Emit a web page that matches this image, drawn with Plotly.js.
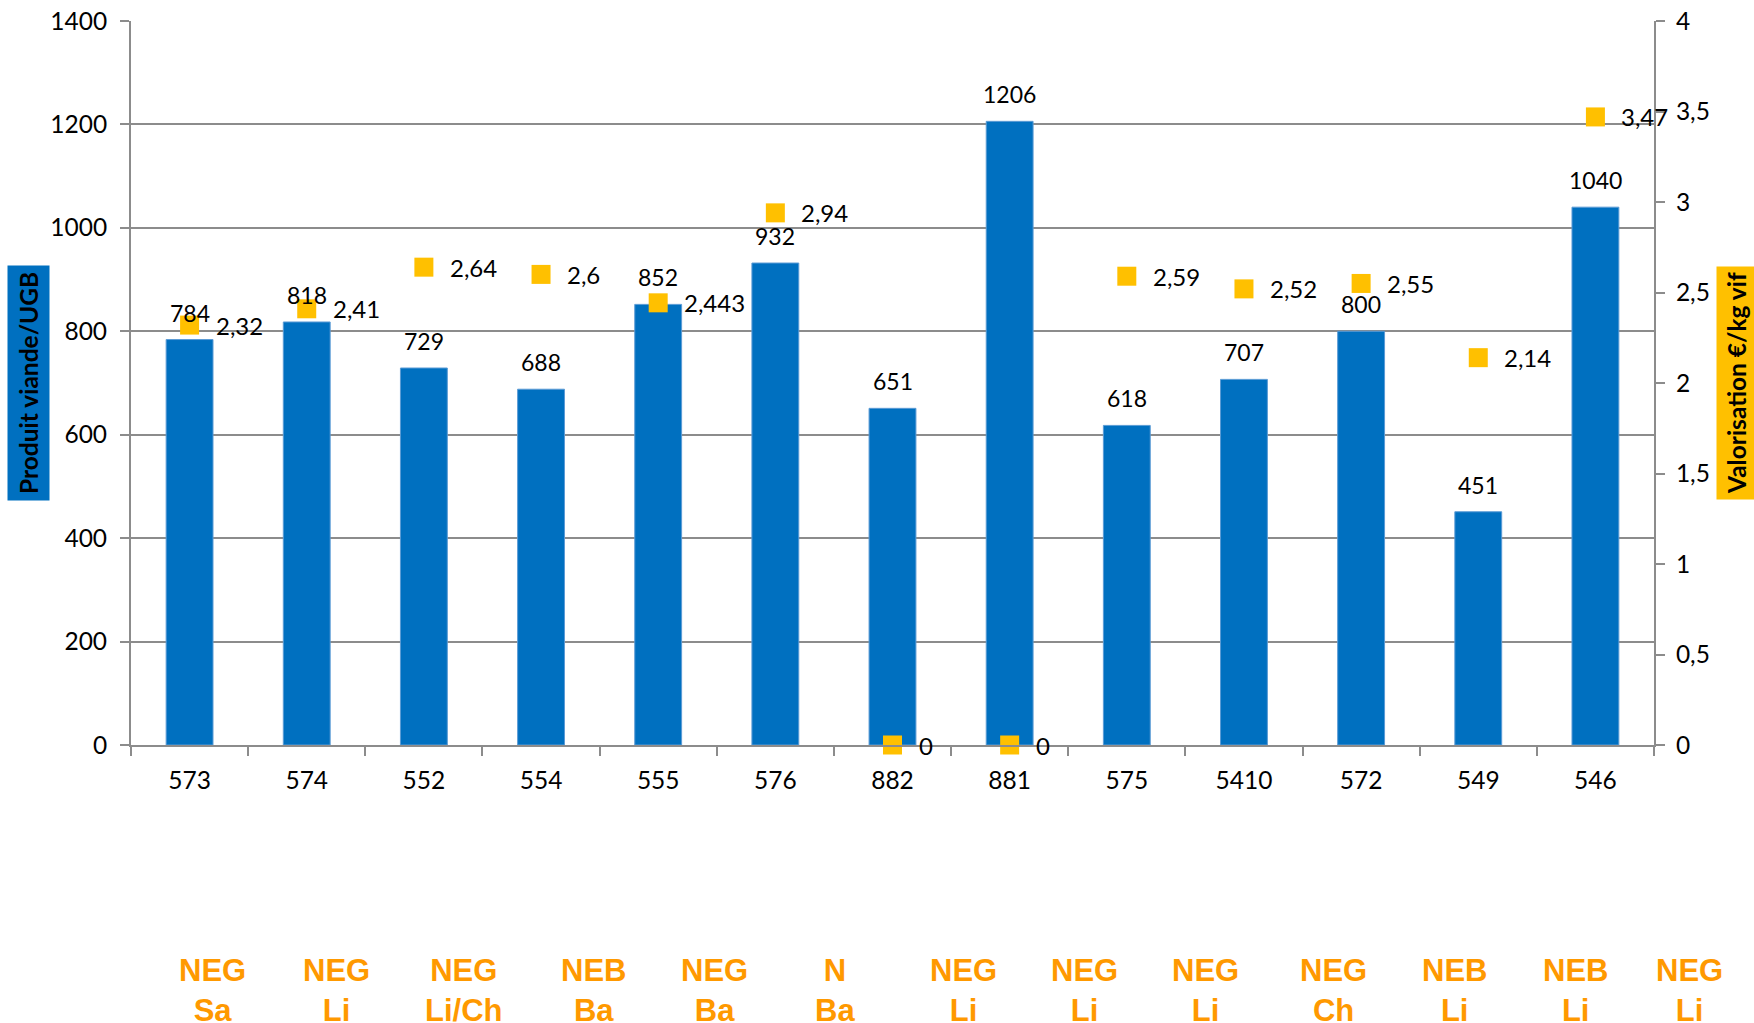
<!DOCTYPE html>
<html>
<head>
<meta charset="utf-8">
<script src="https://cdn.plot.ly/plotly-3.0.1.min.js"></script>
<style>html,body{margin:0;padding:0;background:#fff;}#chart{width:1754px;height:1023px;}</style>
</head>
<body>
<div id="chart"></div>
<script>
// ---- data ----
const categories = ["573","574","552","554","555","576","882","881","575","5410","572","549","546"];
const produitViande = [784, 818, 729, 688, 852, 932, 651, 1206, 618, 707, 800, 451, 1040];
const valorisation = [2.32, 2.41, 2.64, 2.6, 2.443, 2.94, 0, 0, 2.59, 2.52, 2.55, 2.14, 3.47];
const raceLabels = ["NEG<br>Sa","NEG<br>Li","NEG<br>Li/Ch","NEB<br>Ba","NEG<br>Ba","N<br>Ba","NEG<br>Li","NEG<br>Li","NEG<br>Li","NEG<br>Ch","NEB<br>Li","NEB<br>Li","NEG<br>Li"];
const leftTitle = "Produit viande/UGB";
const rightTitle = "Valorisation €/kg vif";

// ---- layout helpers (positions kept separate from data) ----
const W = 1754, H = 1023;
const M = {l:131, r:100, t:21, b:278};
const plotW = W - M.l - M.r, plotH = H - M.t - M.b;
const px2x = p => (p - M.l) / plotW;
const px2y = p => 1 - (p - M.t) / plotH;
const raceLabelPx = [212, 336, 464, 593, 714, 835, 963, 1084, 1205, 1333, 1454, 1575, 1689];
const raceLabelPy = 990;

const FONT = "Lato, 'Open Sans', sans-serif";
const GRID = "#8c8c8c";

const fmt = v => String(v).replace('.', ',');

const barTrace = {
  type: 'bar',
  x: categories,
  y: produitViande,
  marker: {color: '#0070C0', line: {color: '#5b9bd5', width: 1}},
  hoverinfo: 'x+y',
  yaxis: 'y'
};

const scatterTrace = {
  type: 'scatter',
  mode: 'markers',
  x: categories,
  y: valorisation,
  yaxis: 'y2',
  marker: {symbol: 'square', size: 19, color: '#FFC000'},
  cliponaxis: false
};

const annotations = [];
// bar value labels, anchored on data (category index on the category axis)
categories.forEach((c, i) => {
  annotations.push({
    x: i, y: produitViande[i], xref: 'x', yref: 'y',
    text: String(produitViande[i]), showarrow: false,
    yanchor: 'bottom', yshift: 11,
    font: {family: FONT, size: 23, color: '#000'}
  });
});
// valorisation labels, right of markers
categories.forEach((c, i) => {
  annotations.push({
    x: i, y: valorisation[i], xref: 'x', yref: 'y2',
    text: fmt(valorisation[i]), showarrow: false,
    xanchor: 'left', yanchor: 'middle', xshift: 24,
    font: {family: FONT, size: 24, color: '#000'}
  });
});
// race labels below axis
raceLabels.forEach((t, i) => {
  annotations.push({
    x: px2x(raceLabelPx[i]), y: px2y(raceLabelPy), xref: 'paper', yref: 'paper',
    text: t, showarrow: false, xanchor: 'center', yanchor: 'middle',
    font: {family: "'Liberation Sans', Arial, sans-serif", size: 31, color: '#FF9900', weight: 'bold'}
  });
});
// axis titles with coloured boxes
annotations.push({
  x: px2x(28), y: px2y(383), xref: 'paper', yref: 'paper',
  text: '<b>' + leftTitle + '</b>', textangle: -90, showarrow: false,
  xanchor: 'center', yanchor: 'middle',
  bgcolor: '#0070C0', borderpad: 6,
  font: {family: FONT, size: 24.5, color: '#000'}
});
annotations.push({
  x: px2x(1736), y: px2y(383), xref: 'paper', yref: 'paper',
  text: '<b>' + rightTitle + '</b>', textangle: -90, showarrow: false,
  xanchor: 'center', yanchor: 'middle',
  bgcolor: '#FFC000', borderpad: 5,
  font: {family: FONT, size: 24.5, color: '#000'}
});

const TICKFONT = {family: FONT, size: 24.5, color: '#000'};

const layout = {
  width: W, height: H,
  margin: M,
  paper_bgcolor: '#fff', plot_bgcolor: '#fff',
  separators: ', ',
  showlegend: false,
  bargap: 0.6,
  font: {family: FONT, size: 23, color: '#000'},
  xaxis: {
    type: 'category',
    range: [-0.5, categories.length - 0.5], autorange: false,
    showline: true, linecolor: GRID, linewidth: 2,
    ticks: 'outside', tickson: 'boundaries', ticklen: 9, tickcolor: GRID, tickwidth: 2,
    showgrid: false, zeroline: false, tickangle: 0,
    tickfont: TICKFONT,
    ticklabelstandoff: 13
  },
  yaxis: {
    range: [0, 1400], dtick: 200, tick0: 0,
    showline: true, linecolor: GRID, linewidth: 2,
    ticks: 'outside', ticklen: 9, tickcolor: GRID, tickwidth: 2,
    showgrid: true, gridcolor: GRID, gridwidth: 2,
    zeroline: false,
    tickfont: TICKFONT,
    ticklabelstandoff: 8
  },
  yaxis2: {
    range: [0, 4], dtick: 0.5, tick0: 0,
    overlaying: 'y', side: 'right',
    showline: true, linecolor: GRID, linewidth: 2,
    ticks: 'outside', ticklen: 9, tickcolor: GRID, tickwidth: 2,
    showgrid: false, zeroline: false,
    tickfont: TICKFONT,
    ticklabelstandoff: 6
  },
  annotations: annotations
};

Plotly.newPlot('chart', [barTrace, scatterTrace], layout, {displayModeBar: false, staticPlot: true});
</script>
</body>
</html>
